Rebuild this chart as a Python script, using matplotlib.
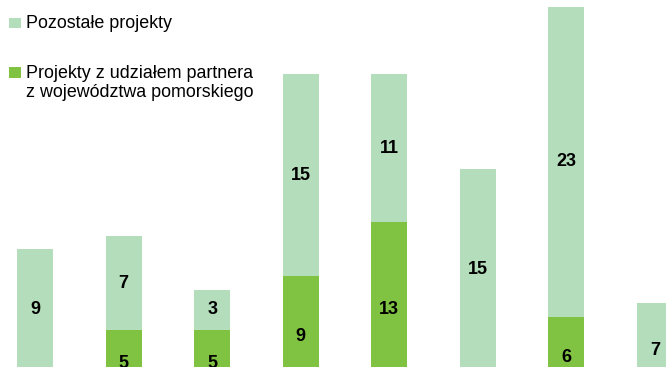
import matplotlib
matplotlib.use("Agg")
import matplotlib.pyplot as plt
from matplotlib.patches import Rectangle

# Data
categories = ["1", "2", "3", "4", "5", "6", "7", "8"]
partner_projects = [2, 5, 5, 9, 13, 2, 6, 0]      # projects with a Pomeranian partner
other_projects = [9, 7, 3, 15, 11, 15, 23, 7]      # remaining projects

legend_labels = ["Pozostałe projekty",
                 "Projekty z udziałem partnera\nz województwa pomorskiego"]

LIGHT = "#B3DDBB"
DARK = "#80C242"

W, H = 666, 367
fig = plt.figure(figsize=(W / 100, H / 100), dpi=100)
plt.rcParams["font.family"] = ["Liberation Sans", "DejaVu Sans"]


def fx(px):
    return px / W


def fy(py):
    # py measured from the top edge of the figure
    return 1 - py / H


# Axes extend past the figure bottom and right edge (cropped view)
base_px = 397.5
unit_px = 13.47
step_px = 88.57
first_center = 35.0
ax_left = first_center - 0.5 * step_px
ax_width = 8 * step_px
ymax = base_px / unit_px
ax = fig.add_axes([fx(ax_left), fy(base_px), fx(ax_width), base_px / H])
ax.set_xlim(-0.5, 7.5)
ax.set_ylim(0, ymax)
ax.axis("off")

x = list(range(len(categories)))
width = 36 / step_px
ax.bar(x, partner_projects, width=width, color=DARK, linewidth=0)
ax.bar(x, other_projects, width=width, bottom=partner_projects,
       color=LIGHT, linewidth=0)

for xi, b, t in zip(x, partner_projects, other_projects):
    if b > 0:
        ax.text(xi, b / 2, str(b), ha="center", va="center",
                fontsize=13, fontweight="bold", color="black", clip_on=False)
    if t > 0:
        ax.text(xi, b + t / 2, str(t), ha="center", va="center",
                fontsize=13, fontweight="bold", color="black", clip_on=False)

# Legend drawn in figure space
fig.patches.append(Rectangle((fx(9.3), fy(28.3)), fx(11.4), 10 / H,
                             transform=fig.transFigure, color=LIGHT,
                             linewidth=0))
fig.patches.append(Rectangle((fx(9.3), fy(77.7)), fx(11.4), 11 / H,
                             transform=fig.transFigure, color=DARK,
                             linewidth=0))
fig.text(fx(26), fy(28.3), legend_labels[0], fontsize=12.9,
         ha="left", va="baseline", color="black")
line1, line2 = legend_labels[1].split("\n")
fig.text(fx(26), fy(77.7), line1, fontsize=12.9,
         ha="left", va="baseline", color="black")
fig.text(fx(26), fy(96.7), line2, fontsize=12.9,
         ha="left", va="baseline", color="black")

fig.savefig("out.png", dpi=100)
